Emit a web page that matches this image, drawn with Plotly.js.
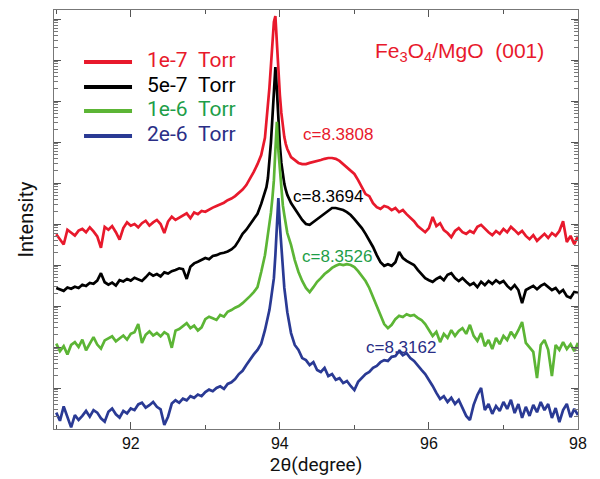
<!DOCTYPE html>
<html>
<head>
<meta charset="utf-8">
<script src="https://cdn.plot.ly/plotly-3.0.1.min.js"></script>
<style>html,body{margin:0;padding:0;background:#fff;}#chart{width:600px;height:479px;}</style>
</head>
<body>
<div id="chart"></div>
<script>
// 2-theta (degree)
const twoTheta = [
91.00,91.05,91.10,91.15,91.20,91.25,91.30,91.35,91.40,91.45,
91.50,91.55,91.60,91.65,91.70,91.75,91.80,91.85,91.90,91.95,
92.00,92.05,92.10,92.15,92.20,92.25,92.30,92.35,92.40,92.45,
92.50,92.55,92.60,92.65,92.70,92.75,92.80,92.85,92.90,92.95,
93.00,93.05,93.10,93.15,93.20,93.25,93.30,93.35,93.40,93.45,
93.50,93.55,93.60,93.65,93.70,93.75,93.80,
93.82,93.84,93.86,93.88,93.90,93.92,93.94,93.96,93.98,94.00,94.02,94.04,94.06,94.08,94.10,
94.15,94.20,94.25,94.30,94.35,94.40,94.45,94.50,94.55,94.60,94.65,94.70,94.75,94.80,94.85,94.90,94.95,95.00,
95.05,95.10,95.15,95.20,95.25,95.30,95.35,95.40,95.45,95.50,95.55,95.60,95.65,95.70,95.75,95.80,95.85,95.90,95.95,96.00,
96.05,96.10,96.15,96.20,96.25,96.30,96.35,96.40,96.45,96.50,96.55,96.60,96.65,96.70,96.75,96.80,96.85,96.90,96.95,97.00,
97.05,97.10,97.15,97.20,97.25,97.30,97.35,97.40,97.45,97.50,97.55,97.60,97.65,97.70,97.75,97.80,97.85,97.90,97.95,98.00
];

// log10(intensity), curves offset vertically as in the figure
const logI_1e7 = [
4.75,4.62,4.50,4.86,4.78,4.72,4.84,4.88,4.80,4.92,
4.82,4.70,4.42,4.93,4.86,4.95,4.80,4.62,4.90,5.04,
4.96,5.00,4.92,5.02,5.08,4.96,5.04,5.10,5.00,4.78,
5.06,5.18,5.10,5.16,5.20,5.26,5.14,5.28,5.24,5.32,
5.30,5.36,5.40,5.44,5.48,5.52,5.58,5.62,5.68,5.76,
5.84,5.95,6.10,6.27,6.46,6.68,7.10,
7.49,7.85,8.32,8.85,9.49,9.93,10.07,9.44,8.63,8.15,7.71,7.37,7.12,6.95,6.83,
6.63,6.56,6.49,6.46,6.46,6.49,6.51,6.54,6.56,6.59,6.61,6.61,6.59,6.54,6.46,6.39,6.32,6.22,
6.07,5.88,5.73,5.68,5.51,5.41,5.37,5.44,5.41,5.34,5.39,5.29,5.34,5.24,5.15,5.07,4.95,4.88,4.80,4.90,
5.17,4.95,5.02,4.85,4.78,4.68,4.83,4.90,4.80,4.76,4.83,4.78,4.93,4.98,4.88,4.80,4.73,4.83,4.76,4.88,
4.80,4.93,4.85,4.76,4.83,4.71,4.63,4.73,4.59,4.68,4.76,4.66,4.78,4.71,4.83,5.07,4.56,4.71,4.51,4.71
];
const logI_5e7 = [
3.44,3.41,3.37,3.45,3.42,3.47,3.44,3.52,3.49,3.56,
3.54,3.62,3.80,3.58,3.52,3.57,3.50,3.63,3.60,3.66,
3.62,3.69,3.64,3.61,3.70,3.80,3.74,3.78,3.72,3.82,
3.79,3.85,3.88,3.92,3.90,3.66,3.96,4.04,4.08,4.12,
4.17,4.14,4.22,4.24,4.28,4.30,4.33,4.38,4.46,4.60,
4.76,4.86,4.98,5.10,5.25,5.49,5.78,
5.90,6.12,6.51,6.98,7.59,8.27,8.83,8.27,7.54,6.93,6.49,6.20,5.98,5.83,5.71,
5.51,5.37,5.22,5.10,5.00,4.98,5.05,5.12,5.20,5.27,5.34,5.39,5.39,5.37,5.34,5.29,5.22,5.12,
5.02,4.90,4.76,4.61,4.44,4.24,4.07,3.98,4.02,3.98,4.07,4.32,4.17,4.10,4.05,4.00,3.88,3.78,3.68,3.63,
3.59,3.66,3.71,3.63,3.76,3.80,3.68,3.61,3.68,3.59,3.51,3.56,3.46,3.59,3.51,3.61,3.54,3.63,3.56,3.61,
3.49,3.41,3.51,3.39,3.07,3.39,3.44,3.49,3.41,3.49,3.54,3.46,3.39,3.44,3.32,3.39,3.24,3.20,3.34,3.32
];
const logI_1e6 = [
2.08,1.90,2.02,1.82,2.05,2.12,2.00,2.18,1.92,2.10,
2.24,2.06,1.96,2.16,2.22,2.26,2.14,2.20,2.28,2.18,
2.32,2.36,2.56,2.10,2.30,2.38,2.28,2.34,2.26,2.36,
2.30,1.98,2.40,2.44,2.50,2.58,2.46,2.52,2.40,2.48,
2.68,2.74,2.70,2.66,2.78,2.74,2.86,2.90,2.96,3.00,
3.07,3.15,3.24,3.34,3.46,3.83,4.24,
4.49,4.73,4.98,5.27,5.63,6.07,6.80,7.49,6.80,6.27,5.83,5.46,5.22,4.98,4.78,
4.49,4.12,3.83,3.61,3.44,3.34,3.46,3.59,3.68,3.78,3.85,3.93,3.98,4.02,4.00,4.02,4.00,3.95,
3.85,3.73,3.61,3.44,3.22,2.98,2.76,2.56,2.46,2.54,2.68,2.76,2.73,2.80,2.76,2.78,2.71,2.66,2.56,2.41,
2.27,2.37,2.12,2.32,2.22,2.41,2.27,2.39,2.46,2.32,2.54,2.27,2.15,2.34,2.02,2.17,1.95,2.22,2.07,2.27,
2.17,2.37,2.24,2.41,2.61,2.10,1.98,1.88,1.24,2.05,2.17,1.93,1.29,2.05,1.93,2.12,1.95,2.07,1.90,2.10
];
const logI_2e6 = [
0.40,0.20,0.55,0.30,0.04,0.34,0.22,0.32,0.44,0.30,
0.46,0.40,0.26,0.18,0.42,0.50,0.36,0.28,0.44,0.38,
0.50,0.46,0.60,0.64,0.52,0.58,0.66,0.54,0.48,0.10,
0.30,0.62,0.70,0.64,0.74,0.70,0.80,0.76,0.84,0.80,
0.90,0.96,0.92,1.00,1.04,0.98,1.10,1.14,1.22,1.34,
1.42,1.56,1.70,1.82,1.93,2.08,2.41,
2.56,2.71,2.90,3.15,3.39,3.68,4.24,5.05,5.63,4.98,4.37,3.83,3.44,3.15,2.85,
2.34,2.05,1.93,1.73,1.68,1.56,1.63,1.44,1.39,1.49,1.29,1.34,1.20,1.24,1.12,1.17,1.05,0.95,
1.15,1.24,1.34,1.39,1.49,1.54,1.63,1.68,1.66,1.76,1.78,1.90,1.80,1.85,1.73,1.66,1.54,1.44,1.34,1.20,
1.05,0.88,0.73,0.80,0.66,0.76,0.61,0.71,0.51,0.32,0.22,0.59,0.83,1.00,0.46,0.61,0.37,0.56,0.44,0.66,
0.49,0.71,0.39,0.61,0.27,0.54,0.32,0.59,0.41,0.66,0.46,0.61,0.27,0.51,0.17,0.46,0.61,0.29,0.49,0.34
];

const seriesNames = ['1e-7\u00a0\u00a0Torr', '5e-7\u00a0\u00a0Torr', '1e-6\u00a0\u00a0Torr', '2e-6\u00a0\u00a0Torr'];
const latticeLabels = ['c=8.3808', 'c=8.3694', 'c=8.3526', 'c=8.3162'];
const labelPosX = [94.78, 94.64, 94.76, 95.63];
const labelPosLog = [7.18, 5.68, 4.21, 1.98];
const xTickVals = [92, 94, 96, 98];

const lineColors = ['#E8192C', '#000000', '#5CB535', '#2A3A94'];
const textColors = ['#E8192C', '#000000', '#1E9E48', '#2A2E86'];
const allLog = [logI_1e7, logI_5e7, logI_1e6, logI_2e6];

const traces = allLog.map((arr, i) => ({
  x: twoTheta,
  y: arr.map(v => Math.pow(10, v)),
  type: 'scatter',
  mode: 'lines',
  name: seriesNames[i],
  showlegend: false,
  line: {color: lineColors[i], width: 2.7},
  hoverinfo: 'skip'
}));

// hand-placed legend (paper coordinates)
const legendRowY = [0.876, 0.816, 0.759, 0.699];
const shapes = [];
const annotations = [];
seriesNames.forEach((n, i) => {
  shapes.push({type: 'line', xref: 'paper', yref: 'paper',
    x0: 0.0573, x1: 0.1489, y0: legendRowY[i], y1: legendRowY[i],
    line: {color: lineColors[i], width: 4}});
  annotations.push({x: 0.1737, y: legendRowY[i] + 0.004, xref: 'paper', yref: 'paper',
    text: n, showarrow: false, xanchor: 'left', yanchor: 'middle',
    font: {family: 'Roboto, sans-serif', size: 21, color: textColors[i]}});
});

latticeLabels.forEach((t, i) => {
  annotations.push({
    x: labelPosX[i], y: labelPosLog[i], xref: 'x', yref: 'y',
    text: t, showarrow: false,
    font: {family: '"Liberation Sans Narrow", "Arial Narrow", Arial, sans-serif', size: 17, color: textColors[i]},
    xanchor: 'center', yanchor: 'middle'
  });
});
annotations.push({
  x: 0.773, y: 0.9, xref: 'paper', yref: 'paper',
  text: 'Fe<sub>3</sub>O<sub>4</sub>/MgO\u00a0\u00a0(001)',
  showarrow: false,
  font: {family: '"Liberation Sans Narrow", "Arial Narrow", Arial, sans-serif', size: 21, color: '#E8192C'},
  xanchor: 'center', yanchor: 'middle'
});

const layout = {
  width: 600, height: 479,
  margin: {l: 54, r: 22, t: 10, b: 50},
  paper_bgcolor: '#ffffff', plot_bgcolor: '#ffffff',
  showlegend: false,
  xaxis: {
    range: [90.97, 98.0], tickmode: 'array', tickvals: xTickVals,
    ticks: 'inside', ticklen: 7, tickcolor: '#555', tickwidth: 1,
    showline: true, linecolor: '#777', linewidth: 1, mirror: 'ticks',
    showgrid: false, zeroline: false,
    minor: {dtick: 1, tick0: 0, ticks: 'inside', ticklen: 4, tickcolor: '#555', showgrid: false},
    tickfont: {family: '"Liberation Sans Narrow", "Arial Narrow", Arial, sans-serif', size: 16, color: '#111'},
    title: {text: '2θ(degree)', font: {family: 'Roboto, sans-serif', size: 19, color: '#111'}, standoff: 6}
  },
  yaxis: {
    type: 'log', range: [0, 10.22], dtick: 1,
    showticklabels: false,
    ticks: 'inside', ticklen: 7, tickcolor: '#555', tickwidth: 1,
    showline: true, linecolor: '#777', linewidth: 1, mirror: 'ticks',
    showgrid: false, zeroline: false,
    minor: {dtick: 'D1', ticks: 'inside', ticklen: 4, tickcolor: '#777', showgrid: false},
    title: {text: 'Intensity', font: {family: 'Roboto, sans-serif', size: 20, color: '#111'}, standoff: 14}
  },
  shapes: shapes,
  annotations: annotations
};

Plotly.newPlot('chart', traces, layout, {displayModeBar: false, staticPlot: true});
</script>
</body>
</html>
